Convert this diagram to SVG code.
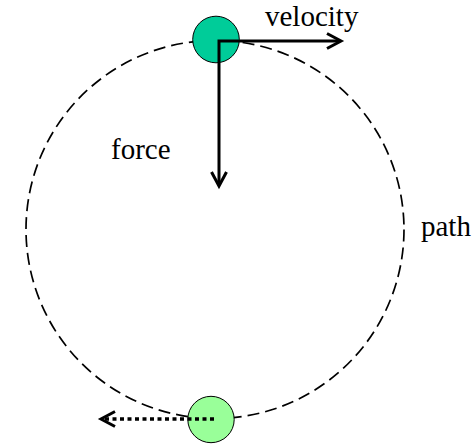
<svg xmlns="http://www.w3.org/2000/svg" width="473" height="445" viewBox="0 0 473 445">
<style>
text{font-family:"Liberation Serif","Times New Roman",serif;font-size:29px;fill:#000}
.path{fill:none;stroke:#000;stroke-width:1.7;stroke-dasharray:12 6}
.ball{stroke:#000;stroke-width:1}
.arr{fill:none;stroke:#000;stroke-width:3}
.head{fill:none;stroke:#000;stroke-width:3;stroke-linejoin:miter}
.dot{fill:none;stroke:#000;stroke-width:3.5;stroke-dasharray:4 3.5}
</style>
<g id="path-circle">
<circle class="path" cx="215" cy="229.5" r="189"/>
</g>
<g id="ball-top">
<circle class="ball" cx="216" cy="39.5" r="23.3" fill="#00CC99"/>
</g>
<g id="ball-bottom">
<circle class="ball" cx="211" cy="419.5" r="23.2" fill="#99FF99"/>
</g>
<g id="connectors">
<path class="arr" d="M219 184 L219 41 L340 41"/>
<path class="head" d="M327 33.5 L341 41 L327 48.5"/>
<path class="head" d="M211.5 172 L219 186 L226.5 172"/>
<line class="dot" x1="214" y1="419" x2="103" y2="419"/>
<path class="head" d="M115 411.5 L101 419 L115 426.5"/>
</g>
<g id="labels">
<text x="265" y="25.5">velocity</text>
<text x="111" y="159">force</text>
<text x="421" y="236">path</text>
</g>
</svg>
